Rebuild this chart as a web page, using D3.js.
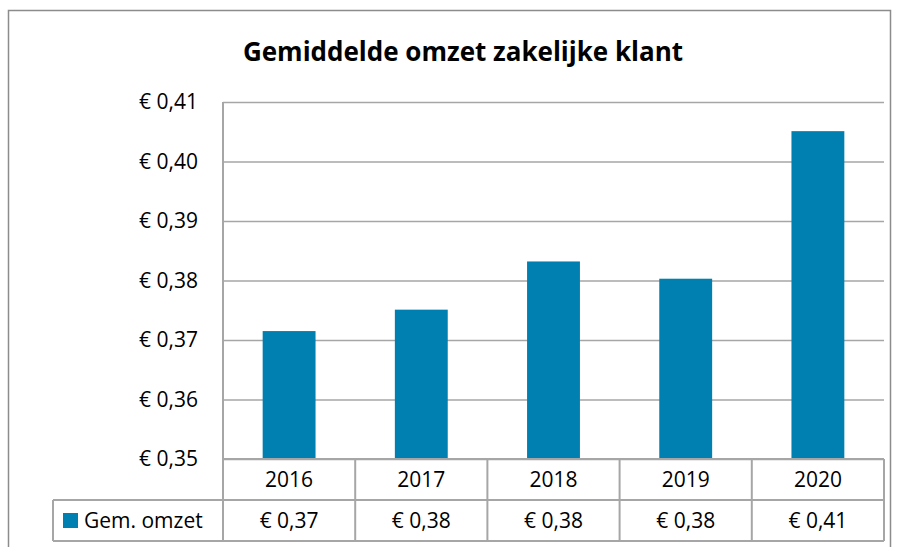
<!DOCTYPE html>
<html lang="nl">
<head>
<meta charset="UTF-8">
<title>Gemiddelde omzet zakelijke klant</title>
<style>
    body { margin: 0; padding: 0; background: #fff; }
    svg { display: block; font-family: "Open Sans", "Liberation Sans", Arial, sans-serif; }
    .grid line { stroke: #a6a6a6; stroke-width: 1.5; }
    .grid path { display: none; }
    .tbl { stroke: #a6a6a6; stroke-width: 2; fill: none; }
</style>
</head>
<body>
<div id="chart"></div>
<script src="https://cdnjs.cloudflare.com/ajax/libs/d3/7.8.5/d3.min.js"></script>
<script>
    const years = ["2016", "2017", "2018", "2019", "2020"];
    const gemOmzet = [0.3715, 0.3751, 0.3832, 0.3803, 0.4051];
    const yTicks = [0.35, 0.36, 0.37, 0.38, 0.39, 0.40, 0.41];
    const seriesName = "Gem. omzet";
    const title = "Gemiddelde omzet zakelijke klant";

    const width = 903, height = 547;
    const plot = { left: 223, right: 884, top: 102, bottom: 459 };
    const rowH = 41; // hoogte tabelrijen
    const barColor = "#0080b0";
    const fs = 21;

    const fmt = v => "€ " + d3.format(".2f")(v).replace(".", ",");

    const svg = d3.select("#chart").append("svg")
        .attr("width", width)
        .attr("height", height);

    // kader om de grafiek
    svg.append("path")
        .attr("d", `M8.5,${height} V10.5 H890.5 V${height}`)
        .attr("fill", "none")
        .attr("stroke", "#8c8c8c")
        .attr("stroke-width", 1.5);

    const x = d3.scaleBand()
        .domain(years)
        .range([plot.left, plot.right])
        .paddingInner(0.6)
        .paddingOuter(0.3);

    const xCell = d3.scaleBand()
        .domain(years)
        .range([plot.left, plot.right]);

    const y = d3.scaleLinear()
        .domain([0.35, 0.41])
        .range([plot.bottom, plot.top]);

    // titel
    svg.append("text")
        .attr("x", 463)
        .attr("y", 61)
        .attr("text-anchor", "middle")
        .attr("font-size", 26)
        .attr("font-weight", "bold")
        .attr("fill", "#000")
        .text(title);

    // rasterlijnen
    svg.append("g")
        .attr("class", "grid")
        .attr("transform", `translate(${plot.left},0)`)
        .call(d3.axisRight(y).tickValues(yTicks).tickSize(plot.right - plot.left).tickFormat(""));

    // y-as labels
    svg.append("g")
        .selectAll("text")
        .data(yTicks)
        .join("text")
        .attr("x", 198)
        .attr("y", d => y(d))
        .attr("dy", "0.35em")
        .attr("text-anchor", "end")
        .attr("font-size", fs)
        .text(fmt);

    // staven
    svg.append("g")
        .selectAll("rect")
        .data(gemOmzet)
        .join("rect")
        .attr("x", (d, i) => x(years[i]))
        .attr("width", x.bandwidth())
        .attr("y", d => y(d))
        .attr("height", d => y(0.35) - y(d))
        .attr("fill", barColor);

    // gegevenstabel
    const t1 = plot.bottom, t2 = plot.bottom + rowH, t3 = plot.bottom + 2 * rowH;
    const legendLeft = 53;
    const tbl = svg.append("g").attr("class", "tbl");
    tbl.append("line").attr("x1", plot.left).attr("x2", plot.left).attr("y1", plot.top).attr("y2", t3);
    tbl.append("line").attr("x1", plot.left).attr("x2", plot.right).attr("y1", t1).attr("y2", t1);
    tbl.append("line").attr("x1", legendLeft).attr("x2", plot.right).attr("y1", t2).attr("y2", t2);
    tbl.append("line").attr("x1", legendLeft).attr("x2", plot.right).attr("y1", t3).attr("y2", t3);
    tbl.append("line").attr("x1", legendLeft).attr("x2", legendLeft).attr("y1", t2).attr("y2", t3);
    tbl.selectAll("line.col")
        .data(years)
        .join("line")
        .attr("class", "col")
        .attr("x1", d => xCell(d) + xCell.bandwidth())
        .attr("x2", d => xCell(d) + xCell.bandwidth())
        .attr("y1", t1)
        .attr("y2", t3);

    svg.append("g")
        .selectAll("text")
        .data(years)
        .join("text")
        .attr("x", d => xCell(d) + xCell.bandwidth() / 2)
        .attr("y", (t1 + t2) / 2)
        .attr("dy", "0.35em")
        .attr("text-anchor", "middle")
        .attr("font-size", fs)
        .text(d => d);

    svg.append("g")
        .selectAll("text")
        .data(gemOmzet)
        .join("text")
        .attr("x", (d, i) => xCell(years[i]) + xCell.bandwidth() / 2)
        .attr("y", (t2 + t3) / 2)
        .attr("dy", "0.35em")
        .attr("text-anchor", "middle")
        .attr("font-size", fs)
        .text(fmt);

    // legenda
    svg.append("rect")
        .attr("x", 63)
        .attr("y", (t2 + t3) / 2 - 7.5)
        .attr("width", 15)
        .attr("height", 15)
        .attr("fill", barColor);
    svg.append("text")
        .attr("x", 84)
        .attr("y", (t2 + t3) / 2)
        .attr("dy", "0.35em")
        .attr("font-size", fs)
        .text(seriesName);
</script>
</body>
</html>
